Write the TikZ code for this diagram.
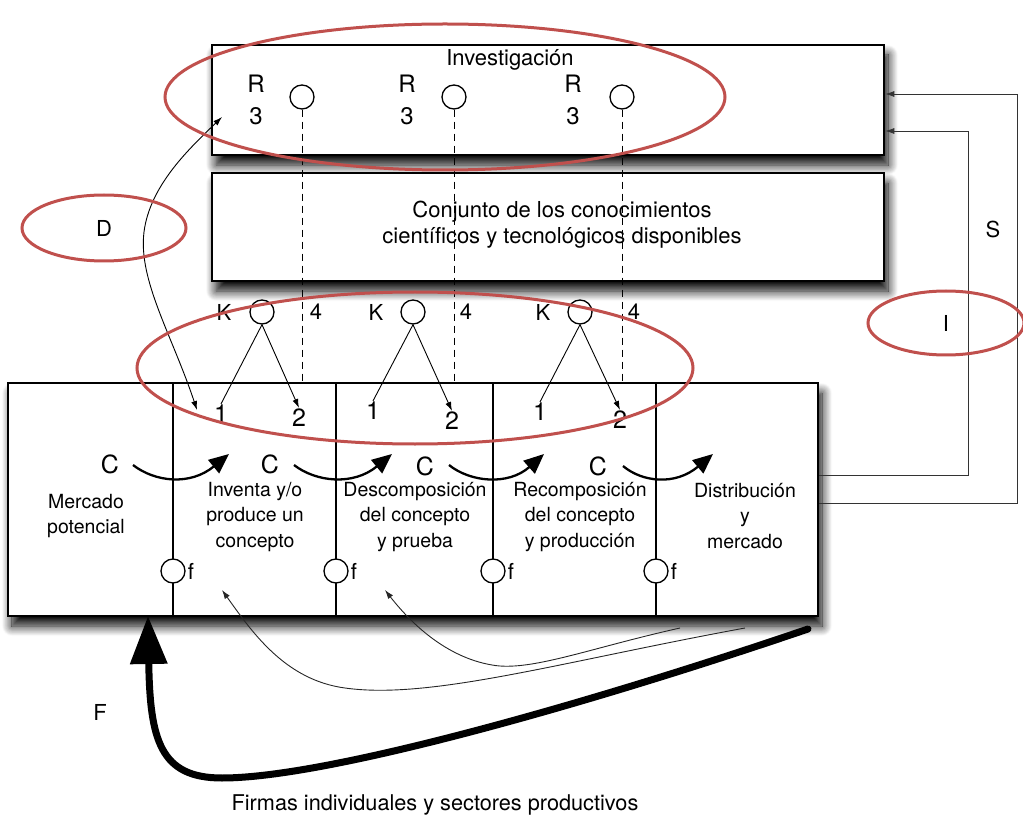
\documentclass[tikz,border=0pt]{standalone}
\usepackage{fontspec}
\setmainfont{TeX Gyre Heros}
\usetikzlibrary{arrows.meta,shapes.geometric,shadows.blur}
\definecolor{ringred}{RGB}{192,80,77}
\begin{document}
\begin{tikzpicture}[x=1pt,y=-1pt,
  box/.style={draw, line width=2.6pt, fill=white, inner sep=0pt,
    blur shadow={shadow xshift=4pt, shadow yshift=-10pt, shadow blur radius=10pt, shadow opacity=100, shadow blur steps=12}},
  title/.style={inner sep=1pt, font=\fontsize{22}{26}\selectfont, align=center},
  cell/.style={inner sep=1pt, font=\fontsize{19.5}{25.5}\selectfont, align=center},
  sym/.style={inner sep=1pt, font=\fontsize{22}{32}\selectfont, align=center},
  bigsym/.style={inner sep=1pt, font=\fontsize{25}{32}\selectfont, align=center},
  dot/.style={circle, draw, line width=1.3pt, fill=white, minimum size=24pt, inner sep=0pt},
  divider/.style={line width=2pt},
  link/.style={line width=0.9pt},
  linkarrow/.style={line width=0.9pt, -{Latex[length=9pt,width=6pt]}},
  flowarrow/.style={line width=2.3pt, -{Triangle[length=20pt,width=17pt]}},
  bigarrow/.style={line width=7pt, line cap=round, -{Triangle[length=48pt,width=36pt]}},
  feedback/.style={line width=0.8pt, draw=black!80, -{Latex[length=9pt,width=6pt]}},
  research/.style={line width=1pt, dash pattern=on 7pt off 5pt},
  ring/.style={ellipse, draw=ringred, line width=3pt, inner sep=0pt, font=\fontsize{22}{26}\selectfont}]

\useasboundingbox (0,0) rectangle (1023,818);

% main boxes
\node[box, minimum width=672pt, minimum height=110pt] (inv) at (548,100) {};
\node[box, minimum width=672pt, minimum height=108pt] (conj) at (548,227) {};
\node[box, minimum width=810pt, minimum height=233pt] (mk) at (413,499.5) {};

\node[title] (invt) at (510,60) {Investigación};
\node[title] (conjt) at (562,225) {Conjunto de los conocimientos\\científicos y tecnológicos disponibles};

% dividers between the stages
\foreach \x [count=\i] in {173,336,493,656} {
  \coordinate (dt\i) at (\x,383);
  \coordinate (db\i) at (\x,616);
  \draw[divider] (dt\i) -- (db\i);
}

% stage texts
\node[cell] (m0) at (86,516) {Mercado\\potencial};
\node[cell] (m1) at (255,517) {Inventa y/o\\produce un\\concepto};
\node[cell] (m2) at (415,517) {Descomposición\\del concepto\\y prueba};
\node[cell] (m3) at (580,517) {Recomposición\\del concepto\\y producción};
\node[cell] (m4) at (745,516) {Distribución\\y\\mercado};

% research points R3 with their dashed links
\foreach \x/\lx [count=\i] in {302/256,454/407,622/573} {
  \node[sym, font=\fontsize{24}{32}\selectfont] (r\i) at (\lx,100) {R\\3};
  \node[dot] (rc\i) at (\x,97) {};
  \draw[research] (rc\i.south) -- (rc\i.south |- mk.north);
}

% knowledge points K
\foreach \x/\kx/\fx/\ax/\ay/\bx/\by [count=\i] in
   {262/224/316/221/414/299/418, 413/376/466/373/411/452/421, 580/543/634/540/412/620/420} {
  \node[sym] (kl\i) at (\kx,312) {K};
  \node[sym] (four\i) at (\fx,312) {4};
  \node[dot] (kc\i) at (\x,312) {};
  \node[bigsym] (one\i) at (\ax,\ay) {1};
  \node[bigsym] (two\i) at (\bx,\by) {2};
  \draw[link] (kc\i.south) -- (one\i.north);
  \draw[linkarrow] (kc\i.south) -- (two\i.north);
}

% C flows across the dividers
\node[bigsym] (c1) at (110,464) {C};
\node[bigsym] (c2) at (270,464) {C};
\node[bigsym] (c3) at (425,466) {C};
\node[bigsym] (c4) at (598,466) {C};
\coordinate (cs1) at (133,465); \coordinate (ce1) at (229,454);
\coordinate (cs2) at (294,465); \coordinate (ce2) at (392,454);
\coordinate (cs3) at (449,465); \coordinate (ce3) at (544,454);
\coordinate (cs4) at (623,466); \coordinate (ce4) at (713,454);
\draw[flowarrow] (cs1) .. controls (155,482) and (190,486) .. (ce1);
\draw[flowarrow] (cs2) .. controls (316,482) and (353,486) .. (ce2);
\draw[flowarrow] (cs3) .. controls (470,482) and (508,486) .. (ce3);
\draw[flowarrow] (cs4) .. controls (642,482) and (675,486) .. (ce4);

% f points on the dividers
\foreach \x [count=\i] in {173,336,493,656} {
  \node[dot] (fc\i) at (\x,571) {};
  \node[sym, anchor=west] (fl\i) at ([xshift=1pt]fc\i.east) {f};
}

% D link between production and research
\coordinate (dtop) at (222,117);
\coordinate (dbot) at (197,410);
\draw[link, {Latex[length=9pt,width=6pt]}-{Latex[length=9pt,width=6pt]}]
  (dbot) .. controls (172,335) and (138,280) .. (144,232)
         .. controls (150,185) and (190,148) .. (dtop);

% feedback lines S and I to research
\draw[feedback] (mk.east |- 0,475) -| (968,131) -- (inv.east |- 0,131);
\draw[feedback] (mk.east |- 0,503) -| (1017,94) -- (inv.east |- 0,94);
\node[sym] (slbl) at (993,229) {S};

% returns from the market to the stages
\coordinate (ra) at (745,628); \coordinate (rae) at (222,590);
\coordinate (rb) at (680,628); \coordinate (rbe) at (385,590);
\draw[linkarrow, draw=black!85] (ra) .. controls (560,662) and (430,700) .. (345,688)
   .. controls (285,680) and (252,632) .. (rae);
\draw[linkarrow, draw=black!85] (rb) .. controls (590,648) and (530,672) .. (492,665)
   .. controls (445,657) and (410,622) .. (rbe);

% F: firms back to the potential market
\coordinate (fs) at (808,629);
\coordinate (fe) at (148,616);
\draw[bigarrow] (fs) .. controls (600,700) and (330,778) .. (222,778)
   .. controls (160,778) and (150,740) .. (fe);
\node[sym] (flbl) at (100,712) {F};

\node[title, font=\fontsize{21.7}{26}\selectfont] (firmas) at (435,805) {Firmas individuales y sectores productivos};

% highlighted groups
\node[ring, minimum width=560pt, minimum height=146pt] (ringR) at (445,97) {};
\node[ring, minimum width=556pt, minimum height=152pt] (ringK) at (415,368) {};
\node[ring, minimum width=164pt, minimum height=66pt] (ringD) at (104,228) {D};
\node[ring, minimum width=156pt, minimum height=64pt] (ringI) at (946,323) {I};
\end{tikzpicture}
\end{document}
